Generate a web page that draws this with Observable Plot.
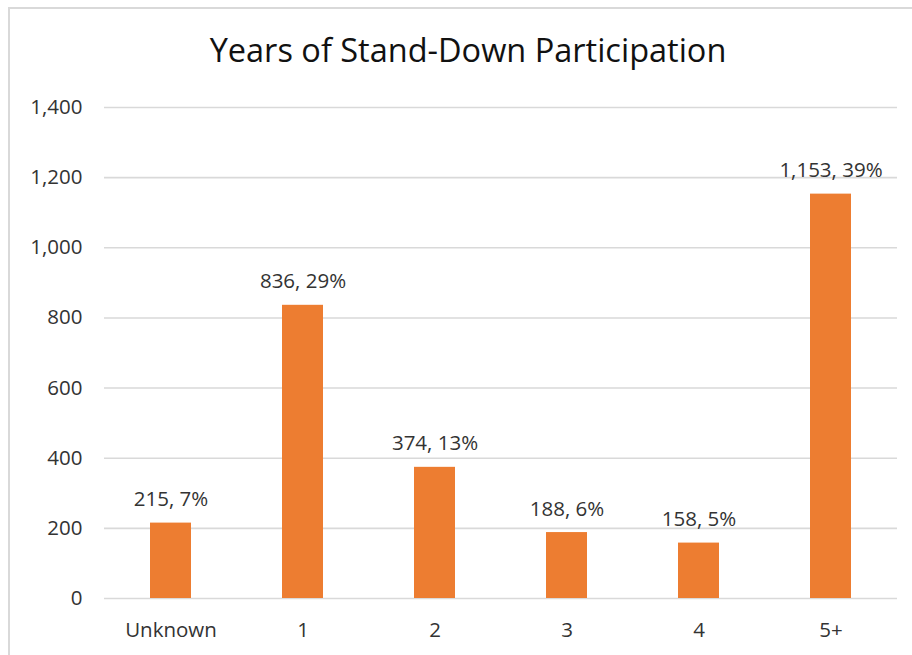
<!DOCTYPE html>
<html>
<head>
<meta charset="utf-8">
<script src="https://cdn.jsdelivr.net/npm/d3@7"></script>
<script src="https://cdn.jsdelivr.net/npm/@observablehq/plot@0.6"></script>
<style>
  html, body { margin: 0; padding: 0; background: #fff; }
  #wrap { position: relative; width: 912px; height: 655px; overflow: hidden; font-family: "Open Sans", sans-serif; }
  #frame { position: absolute; left: 8px; top: 7px; width: 920px; height: 700px;
           border-left: 2px solid #d9d9d9; border-top: 2px solid #d9d9d9; box-sizing: border-box; }
  #title { position: absolute; left: 0; width: 936px; top: 34px; text-align: center;
           font-size: 32.5px; color: #111; line-height: 1; }
  #chart { position: absolute; left: 0; top: 80px; }
</style>
</head>
<body>
<div id="wrap">
  <div id="frame"></div>
  <div id="title">Years of Stand-Down Participation</div>
  <div id="chart"></div>
</div>
<script>
// Participants by number of years taking part in the Stand-Down
const categories = ["Unknown", "1", "2", "3", "4", "5+"];
const counts = [215, 836, 374, 188, 158, 1153];
const yTicks = [0, 200, 400, 600, 800, 1000, 1200, 1400];

const total = d3.sum(counts);
const rows = categories.map((c, i) => ({
  category: c,
  count: counts[i],
  label: `${d3.format(",")(counts[i])}, ${Math.round(counts[i] / total * 100)}%`
}));

const plot = Plot.plot({
  width: 912,
  height: 575,
  marginLeft: 104,
  marginRight: 15,
  marginTop: 27,
  marginBottom: 57,
  style: { fontFamily: "'Open Sans', sans-serif", fontSize: "20.5px", color: "#333", background: "transparent" },
  x: { domain: categories, paddingInner: 0.69, paddingOuter: 0.345, label: null },
  y: { domain: [0, 1400], label: null },
  marks: [
    Plot.gridY(yTicks, { stroke: "#d9d9d9", strokeWidth: 1.6, strokeOpacity: 1 }),
    Plot.axisY(yTicks, { tickSize: 0, tickPadding: 22, tickFormat: d3.format(","), fill: "#333" }),
    Plot.axisX({ tickSize: 0, tickPadding: 24, fill: "#333" }),
    Plot.barY(rows, { x: "category", y: "count", fill: "#ED7D31" }),
    Plot.text(rows, { x: "category", y: "count", text: "label", lineAnchor: "bottom", dy: -17, fill: "#333" })
  ]
});
document.getElementById("chart").appendChild(plot);
</script>
</body>
</html>
